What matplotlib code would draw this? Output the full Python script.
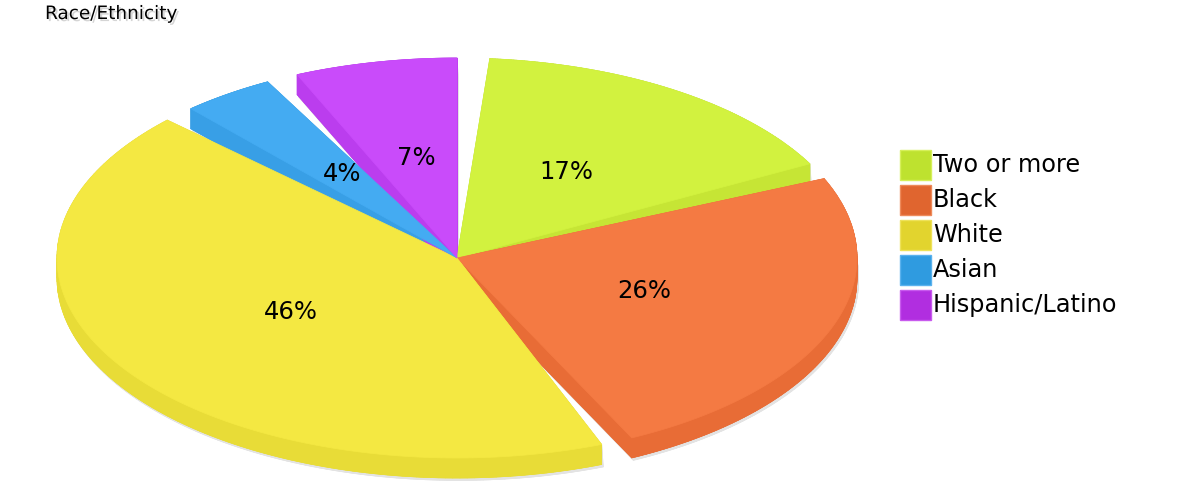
import matplotlib
matplotlib.use("Agg")
import matplotlib.pyplot as plt
import matplotlib.patheffects as pe
import numpy as np
from matplotlib.collections import PolyCollection
from matplotlib.patches import Polygon, Rectangle


TITLE = "Race/Ethnicity"
groups = ["Two or more", "Black", "White", "Asian", "Hispanic/Latino"]
shares = [17, 26, 46, 4, 7]

top_colors = ["#D2F23F", "#F47A43", "#F4E842", "#44ABF2", "#C94BFA"]
side_colors = ["#C6E535", "#E86C36", "#E8DC37", "#389FE6", "#BB3DEE"]
key_colors = ["#BEE22F", "#E0652F", "#E2D42E", "#2F9BE0", "#B12EE0"]
key_edges = ["#D6F05A", "#EE8A5A", "#EEE25A", "#5AB2EE", "#C85AEE"]

GAP = 4.7      # degrees between slices
DEPTH = 0.1    # height of the 3d rim in y units

plt.rcParams["font.family"] = ["DejaVu Sans"]


def slice_outline(t1, t2, n=150):
    t = np.radians(np.linspace(t1, t2, n))
    xs = np.concatenate([[0.0], np.cos(t)])
    ys = np.concatenate([[0.0], np.sin(t)])
    return np.column_stack([xs, ys])


def sweep(pts, depth, dx=0.0):
    closed = np.vstack([pts, pts[:1]])
    shift = np.array([dx, -depth])
    quads = [pts + shift]
    for a, b in zip(closed[:-1], closed[1:]):
        quads.append(np.array([a, b, b + shift, a + shift]))
    return quads


def slice_angles(values):
    scale = (360 - len(values) * GAP) / sum(values)
    cur = 90 - GAP
    out = []
    for v in values:
        hi = cur
        lo = cur - v * scale
        out.append((lo, hi))
        cur = lo - GAP
    return out


fig = plt.figure(figsize=(12, 5), dpi=100)
ax = fig.add_axes([0, 0, 1, 1])
# pie centre at (457, 258) px, radii 400 x 200 px
ax.set_xlim(-457 / 400, (1200 - 457) / 400)
ax.set_ylim(-242 / 200, 258 / 200)
ax.axis("off")

angles = slice_angles(shares)
outlines = [slice_outline(lo, hi) for lo, hi in angles]

# soft shadow under the rim
for pts in outlines:
    pc = PolyCollection(sweep(pts, DEPTH + 0.012, dx=0.004),
                        facecolor="#e3e3e3", edgecolor="#e3e3e3", linewidth=0.5)
    ax.add_collection(pc)

# rims
for pts, col in zip(outlines, side_colors):
    pc = PolyCollection(sweep(pts, DEPTH), facecolor=col, edgecolor=col, linewidth=0.5)
    ax.add_collection(pc)

# top faces
for pts, col in zip(outlines, top_colors):
    ax.add_patch(Polygon(pts, closed=True, facecolor=col, edgecolor=col, linewidth=0.5))

# percent labels
for (lo, hi), v in zip(angles, shares):
    mid = np.radians((lo + hi) / 2)
    ax.text(0.5 * np.cos(mid), 0.5 * np.sin(mid) + 0.01, f"{v}%",
            ha="center", va="center", fontsize=17.5, color="black")

# legend
for i, (name, col, edge) in enumerate(zip(groups, key_colors, key_edges)):
    top = 150 + 35 * i
    fig.patches.append(Rectangle((900 / 1200, 1 - (top + 30) / 500), 31 / 1200, 30 / 500,
                                 transform=fig.transFigure, facecolor=col,
                                 edgecolor=edge, linewidth=1))
    fig.text(933 / 1200, 1 - (top + 15) / 500, name, ha="left", va="center",
             fontsize=17.3, color="black")

fig.text(45 / 1200, 1 - 14 / 500, TITLE, ha="left", va="center", fontsize=13.3,
         color="black",
         path_effects=[pe.withSimplePatchShadow(offset=(1.5, -1.5),
                                                shadow_rgbFace="#888888", alpha=0.35)])

fig.savefig("out.png", dpi=100)
